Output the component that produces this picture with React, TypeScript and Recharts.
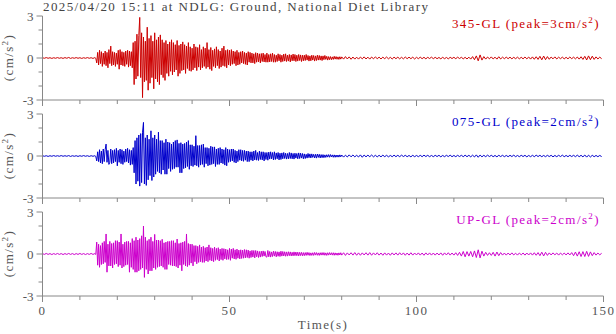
import React from 'react';
import { LineChart, Line, XAxis, YAxis } from 'recharts';

// Accelerations, in units of 0.01 cm/s^2.
// Head: 0–13.5 s every 0.5 s; strong motion: 14–79.75 s every 0.25 s; tail: 80–149.5 s every 0.5 s.
const HEAD_START = 0;
const HEAD_STEP = 0.5;
const STRONG_START = 14;
const STRONG_STEP = 0.25;
const TAIL_START = 80;
const TAIL_STEP = 0.5;

const head345 = [
  2, -2, 3, -2, 2, -3, 2, -2, 3, -2,
  2, -3, 3, -2, 4, -3, 2, -2, 3, -2,
  2, -3, 2, -2, 3, -2, 2, -3,
];
const strong345 = [
  3, -2, -35, 40, -50, 55, -40, 45, -60, 35, -45, 50, -55, 40, -70, 60,
  -40, 85, -55, 45, -50, 40, -60, 35, -45, 55, -80, 60, -50, 45, -55, 40,
  -60, 50, -45, 55, -65, 50, -55, 45, -70, 110, -190, 120, -150, 170, -130, 160,
  290, -140, 180, -283, 150, -170, 120, -160, 220, -230, 140, -180, 160, -140, 120, -220,
  180, -150, 130, -170, 150, -190, 165, -120, 130, -140, 110, -160, 125, -110, 100, -130,
  115, -95, 130, -120, 110, -100, 95, -85, 125, -130, 90, -110, 100, -90, 115, -85,
  95, -110, 85, -75, 110, -90, 80, -95, 70, -85, 100, -70, 80, -90, 75, -65,
  95, -85, 60, -70, 80, -60, 70, -75, 110, -65, 60, -80, 75, -90, 55, -60,
  65, -70, 80, -55, 60, -75, 50, -65, 70, -55, 85, -60, 55, -70, 60, -50,
  55, -55, 60, -45, 50, -40, 45, -55, 55, -50, 40, -45, 45, -35, 50, -40,
  40, -45, 35, -50, 45, -30, 40, -35, 35, -35, 30, -40, 38, -30, 35, -28,
  30, -35, 32, -25, 35, -28, 25, -30,
  35, -30, 25, -28, 30, -25, 35, -30, 25, -30, 20, -25, 30, -20, 25, -30,
  20, -25, 28, -22, 30, -25, 20, -22, 25, -28, 22, -20, 28, -20, 25, -25,
  20, -22, 25, -18, 22, -25, 20, -20, 20, -18, 25, -15, 18, -22, 15, -20,
  20, -15, 18, -22, 15, -18, 20, -15, 18, -15, 15, -18, 15, -12, 18, -10,
  12, -15, 10, -12, 10, -12, 8, -10, 12, -8, 10, -9, 8, -10, 9, -8,
];
const tail345 = [
  8, -8, 10, -7, 8, -9, 7, -8, 6, -8,
  7, -6, 8, -7, 6, -8, 7, -6, 8, -5,
  6, -7, 6, -5, 7, -6, 5, -7, 6, -5,
  6, -6, 5, -6, 7, -5, 6, -5, 6, -7,
  5, -5, 6, -5, 5, -6, 5, -4, 6, -5,
  5, -5, 4, -6, 5, -5, 4, -6, 5, -4,
  5, -5, 6, -4, 5, -6, 5, -7, 6, -8,
  10, -12, 15, -20, 22, -15, 10, -8, 7, -6,
  8, -7, 6, -8, 9, -7, 6, -5, 6, -5,
  6, -6, 5, -5, 6, -6, 5, -6, 7, -6,
  7, -8, 8, -9, 9, -10, 12, -13, 14, -12,
  10, -9, 7, -6, 8, -7, 6, -5, 6, -6,
  5, -6, 7, -5, 6, -6, 7, -8, 9, -10,
  12, -14, 15, -12, 13, -10, 8, -7, 6, -5,
];

const head075 = [
  2, -2, 2, -3, 2, -2, 3, -2, 2, -2,
  3, -2, 2, -2, 3, -3, 2, -2, 2, -3,
  2, -2, 3, -2, 2, -3, 2, -2,
];
const strong075 = [
  2, -3, -35, 30, -40, 45, -50, 35, -55, 50, -40, 45, 85, -45, 40, -60,
  -45, 50, -55, 40, -50, 45, -40, 55, -70, 40, -45, 50, -55, 45, -60, 35,
  -45, 50, -40, 55, -50, 45, -65, 40, -60, 60, -120, 110, -200, 130, -180, 150,
  -215, 160, -190, 170, 240, -200, 130, -210, 150, -170, 120, -140, 180, -175, 130, -150,
  150, -130, 120, -110, 170, -120, 110, -130, 110, -100, 95, -130, 120, -130, 100, -90,
  95, -110, 85, -95, 100, -90, 110, -80, 115, -80, 90, -120, 95, -120, 85, -90,
  90, -85, 100, -75, 110, -95, 80, -70, 80, -75, 70, -65, 145, -70, 75, -80,
  75, -65, 80, -60, 85, -80, 60, -55, 60, -70, 55, -65, 70, -60, 65, -55,
  65, -75, 50, -60, 55, -60, 60, -50, 50, -55, 45, -65, 60, -70, 50, -45,
  45, -40, 50, -35, 50, -45, 40, -50, 35, -40, 45, -30, 45, -35, 40, -38,
  40, -30, 35, -40, 35, -40, 30, -30, 30, -35, 35, -28, 40, -30, 25, -32,
  35, -25, 30, -28, 30, -35, 25, -25,
  25, -30, 28, -22, 30, -20, 25, -28, 30, -25, 22, -20, 25, -28, 20, -25,
  22, -20, 25, -18, 20, -22, 18, -20, 25, -18, 22, -20, 18, -22, 20, -15,
  18, -20, 22, -18, 20, -15, 18, -20, 15, -18, 12, -15, 18, -12, 15, -14,
  15, -10, 12, -14, 12, -15, 14, -10, 12, -14, 10, -12, 10, -12, 8, -10,
  9, -8, 10, -9, 10, -7, 8, -9, 8, -9, 7, -8, 7, -8, 8, -6,
];
const tail075 = [
  7, -8, 6, -7, 8, -6, 7, -6, 5, -7,
  8, -9, 7, -6, 6, -5, 7, -6, 5, -6,
  5, -6, 6, -5, 5, -6, 4, -5, 6, -5,
  5, -5, 6, -4, 5, -5, 4, -6, 5, -5,
  4, -5, 5, -5, 6, -4, 5, -5, 4, -5,
  5, -4, 5, -6, 4, -5, 5, -4, 6, -5,
  4, -5, 5, -4, 5, -5, 6, -5, 5, -6,
  6, -7, 8, -9, 7, -6, 5, -5, 6, -4,
  5, -5, 4, -6, 5, -4, 5, -5, 4, -5,
  5, -4, 6, -5, 4, -5, 5, -4, 5, -6,
  4, -5, 5, -5, 6, -4, 5, -5, 4, -5,
  5, -4, 5, -6, 4, -5, 5, -4, 6, -5,
  4, -5, 5, -4, 5, -5, 6, -5, 5, -6,
  7, -8, 6, -7, 5, -5, 4, -5, 4, -4,
];

const headUP = [
  3, -3, 4, -3, 3, -4, 3, -3, 4, -3,
  3, -4, 3, -3, 4, -3, 3, -4, 3, -3,
  4, -3, 3, -4, 3, -3, 4, -3,
];
const strongUP = [
  3, -3, 85, -80, 70, -95, 60, -75, 80, -70, 90, -60, 143, -130, 70, -85,
  90, -85, 75, -100, 80, -75, 95, -70, 95, -90, 85, -80, 143, -100, 70, -90,
  85, -80, 90, -75, 90, -130, 80, -95, 110, -110, 95, -130, 120, -130, 100, -120,
  110, -110, 130, -100, 200, -167, 120, -110, 95, -143, 105, -120, 120, -120, 90, -100,
  140, -110, 100, -95, 100, -90, 95, -85, 105, -95, 80, -110, 85, -110, 90, -75,
  90, -80, 95, -85, 95, -85, 80, -90, 107, -100, 75, -80, 80, -120, 85, -75,
  90, -85, 143, -90, 75, -80, 70, -65, 70, -85, 60, -55, 60, -70, 55, -60,
  65, -55, 50, -60, 55, -60, 45, -50, 50, -55, 65, -45, 45, -50, 40, -55,
  50, -45, 40, -40, 45, -50, 35, -40, 40, -45, 38, -35, 35, -40, 30, -38,
  40, -45, 35, -30, 40, -35, 30, -38, 35, -30, 28, -35, 30, -32, 28, -30,
  32, -28, 30, -25, 28, -30, 22, -25, 26, -22, 25, -28, 25, -20, 22, -25,
  18, -22, 20, -18, 22, -15, 18, -20,
  -22, 25, -20, 18, -22, 15, -18, 20, -15, 18, -20, 16, -16, 15, -18, 20,
  -15, 18, -14, 16, -16, 15, -15, 16, -12, 15, -14, 12, -13, 15, -12, 14,
  -12, 13, -14, 12, -11, 12, -13, 10, -12, 10, -10, 12, -9, 10, -11, 8,
  -10, 9, -10, 11, -8, 10, -9, 8, -10, 9, -8, 10, -8, 10, -9, 8,
  -10, 9, -8, 10, -7, 9, -8, 9, -9, 8, -8, 7, -9, 8, -7, 9,
];
const tailUP = [
  -8, 9, -10, 8, -7, 9, -8, 10, -9, 8,
  -9, 8, -7, 9, -8, 10, -9, 8, -7, 9,
  -8, 7, -9, 8, -8, 7, -9, 8, -7, 8,
  -8, 9, -7, 8, -9, 7, -8, 9, -8, 7,
  -7, 8, -8, 7, -9, 8, -7, 8, -8, 7,
  -8, 7, -7, 8, -9, 8, -7, 9, -8, 7,
  -8, 9, -10, 12, -15, 18, -20, 17, -15, 18,
  -20, 22, -25, 30, -28, 20, -15, 12, -10, 9,
  -10, 12, -15, 14, -12, 10, -8, 7, -8, 7,
  -7, 8, -7, 6, -8, 7, -6, 7, -8, 7,
  -7, 8, -8, 9, -9, 10, -12, 13, -14, 12,
  -10, 8, -7, 8, -6, 7, -8, 7, -6, 7,
  -7, 8, -7, 10, -12, 14, -15, 16, -18, 17,
  -18, 19, -17, 15, -12, 10, -8, 7, -6, 5,
];

const componentNames = ['345-GL', '075-GL', 'UP-GL'];
const peakValues = [3, 2, 2];
const xTicks = [0, 10, 20, 30, 40, 50, 60, 70, 80, 90, 100, 110, 120, 130, 140, 150];
const xLabelTicks = [0, 50, 100, 150];
const yTicks = [-3, -2, -1, 0, 1, 2, 3];
const yLabelTicks = [-3, 0, 3];
const titleText = '2025/04/20 15:11 at NDLG: Ground, National Diet Library';

function buildSeries(head: number[], strong: number[], tail: number[]) {
  return [
    ...head.map((v, i) => ({ t: HEAD_START + i * HEAD_STEP, v: v / 100 })),
    ...strong.map((v, i) => ({ t: STRONG_START + i * STRONG_STEP, v: v / 100 })),
    ...tail.map((v, i) => ({ t: TAIL_START + i * TAIL_STEP, v: v / 100 })),
  ];
}

const seriesData = [
  buildSeries(head345, strong345, tail345),
  buildSeries(head075, strong075, tail075),
  buildSeries(headUP, strongUP, tailUP),
];

const W = 616;
const H = 334;
const PLOT_LEFT = 42.5;
const PLOT_RIGHT = 603.5;
const PLOT_H = 84;
const PANEL_TOPS = [15.5, 113.5, 211.5];
const COLORS = ['#cc0000', '#0000cc', '#cc00cc'];
const FRAME = '#888888';
const TEXT = '#555555';
const FONT = '"Liberation Serif", "Times New Roman", serif';
const LS = 1.4;

const makeXTick = (showLabel: boolean) => (props: any) => {
  const { x, y, payload } = props;
  const major = xLabelTicks.includes(payload.value);
  return (
    <g>
      <line x1={x} x2={x} y1={y} y2={y + (major ? 6 : 4)} stroke={FRAME} strokeWidth={1} />
      {showLabel && major && (
        <text x={x} y={y + 19} textAnchor="middle" fontFamily={FONT} fontSize={13} fill={TEXT} letterSpacing={LS}>
          {payload.value}
        </text>
      )}
    </g>
  );
};

const YTick = (props: any) => {
  const { x, y, payload } = props;
  const major = yLabelTicks.includes(payload.value);
  return (
    <g>
      <line x1={x - (major ? 6 : 4)} x2={x} y1={y} y2={y} stroke={FRAME} strokeWidth={1} />
      {major && (
        <text x={x - 9} y={y + 4.5} textAnchor="end" fontFamily={FONT} fontSize={13} fill={TEXT}>
          {payload.value}
        </text>
      )}
    </g>
  );
};

function Panel({ idx }: { idx: number }) {
  const mt = 9;
  const showX = idx === 2;
  const hx = showX ? 38 : 6;
  const height = mt + PLOT_H + hx;
  return (
    <div style={{ position: 'absolute', left: 0, top: PANEL_TOPS[idx] - mt }}>
      <LineChart
        width={W}
        height={height}
        data={seriesData[idx]}
        margin={{ top: mt, right: W - PLOT_RIGHT, bottom: 0, left: PLOT_LEFT - 42 }}
      >
        <XAxis
          dataKey="t"
          type="number"
          domain={[0, 150]}
          ticks={xTicks}
          interval={0}
          tickSize={0}
          tickMargin={0}
          tickLine={false}
          axisLine={{ stroke: FRAME }}
          height={hx}
          tick={makeXTick(showX)}
          allowDataOverflow
        />
        <XAxis
          xAxisId="top"
          orientation="top"
          dataKey="t"
          type="number"
          domain={[0, 150]}
          height={0}
          tick={false}
          tickLine={false}
          axisLine={{ stroke: FRAME }}
        />
        <YAxis
          type="number"
          domain={[-3, 3]}
          ticks={yTicks}
          interval={0}
          width={42}
          tickSize={0}
          tickMargin={0}
          tickLine={false}
          axisLine={{ stroke: FRAME }}
          tick={YTick}
          allowDataOverflow
        />
        <YAxis
          yAxisId="right"
          orientation="right"
          type="number"
          domain={[-3, 3]}
          width={0}
          tick={false}
          tickLine={false}
          axisLine={{ stroke: FRAME }}
        />
        <Line
          dataKey="v"
          type="linear"
          stroke={COLORS[idx]}
          strokeWidth={1}
          dot={false}
          isAnimationActive={false}
        />
      </LineChart>
    </div>
  );
}

export default function App() {
  return (
    <div style={{ position: 'absolute', left: 0, top: 0, width: W, height: H, background: '#ffffff', overflow: 'hidden' }}>
      {[0, 1, 2].map((i) => (
        <Panel key={i} idx={i} />
      ))}
      <svg width={W} height={H} style={{ position: 'absolute', left: 0, top: 0, pointerEvents: 'none' }}>
        <text x={43} y={11} fontFamily={FONT} fontSize={13} fill="#444444" letterSpacing={LS}>
          {titleText}
        </text>
        {[0, 1, 2].map((i) => {
          const top = PANEL_TOPS[i];
          const zero = top + PLOT_H / 2;
          return (
            <g key={i}>
              <text x={600} y={top + 12.5} textAnchor="end" fontFamily={FONT} fontSize={13} fill={COLORS[i]} letterSpacing={LS}>
                {`${componentNames[i]} (peak=${peakValues[i]}cm/s`}
                <tspan fontSize={9} dy={-5}>2</tspan>
                <tspan dy={5}>)</tspan>
              </text>
              <text
                x={13}
                y={zero}
                transform={`rotate(-90 13 ${zero})`}
                textAnchor="middle"
                fontFamily={FONT}
                fontSize={13}
                fill={TEXT}
                letterSpacing={LS}
              >
                (cm/s<tspan fontSize={9} dy={-5}>2</tspan>
                <tspan dy={5}>)</tspan>
              </text>
            </g>
          );
        })}
        <text x={(PLOT_LEFT + PLOT_RIGHT) / 2} y={329} textAnchor="middle" fontFamily={FONT} fontSize={13} fill={TEXT} letterSpacing={LS}>
          Time(s)
        </text>
      </svg>
    </div>
  );
}
